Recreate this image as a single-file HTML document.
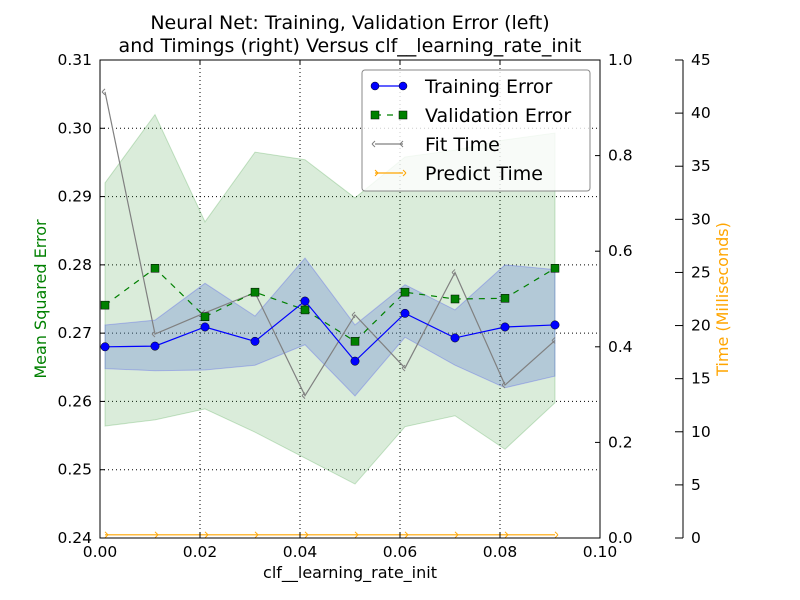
<!DOCTYPE html>
<html><head><meta charset="utf-8"><style>
body{margin:0;background:#fff;}
svg{display:block;font-family:"DejaVu Sans","Liberation Sans",sans-serif;}
</style></head><body>
<svg id="chart" width="800" height="600" xmlns="http://www.w3.org/2000/svg">
<rect width="800" height="600" fill="#fff"/>
<text x="350" y="29" text-anchor="middle" font-size="19">Neural Net: Training, Validation Error (left)</text>
<text x="350" y="52" text-anchor="middle" font-size="19">and Timings (right) Versus clf__learning_rate_init</text>
<text x="350" y="578" text-anchor="middle" font-size="16">clf__learning_rate_init</text>
<text transform="translate(46,299) rotate(-90)" text-anchor="middle" font-size="16" fill="green">Mean Squared Error</text>
<text transform="translate(728,299) rotate(-90)" text-anchor="middle" font-size="16" fill="orange">Time (Milliseconds)</text>
<g id="layer"></g>
</svg>
<script>
const xs=[0.001,0.011,0.021,0.031,0.041,0.051,0.061,0.071,0.081,0.091];
const trainErr=[0.2680,0.2681,0.2709,0.2688,0.2747,0.2659,0.2729,0.2693,0.2709,0.2712];
const trainUp=[0.2712,0.2719,0.2773,0.2725,0.2810,0.2712,0.2771,0.2734,0.2800,0.2793];
const trainLo=[0.2648,0.2645,0.2646,0.2653,0.2683,0.2608,0.2694,0.2653,0.2620,0.2637];
const valErr=[0.2741,0.2795,0.2724,0.2760,0.2734,0.2688,0.2760,0.2750,0.2751,0.2795];
const valUp=[0.2920,0.3020,0.2863,0.2965,0.2954,0.2898,0.2958,0.2968,0.2983,0.2993];
const valLo=[0.2564,0.2573,0.2589,0.2555,0.2517,0.2479,0.2563,0.2579,0.2530,0.2598];
const fitTime=[42.0,19.2,21.2,23.1,13.4,21.0,16.0,25.0,14.4,18.6];
const predTime=[0.3,0.3,0.3,0.3,0.3,0.3,0.3,0.3,0.3,0.3];
const xTicks=["0.00","0.02","0.04","0.06","0.08","0.10"];
const yTicks=["0.24","0.25","0.26","0.27","0.28","0.29","0.30","0.31"];
const r1Ticks=["0.0","0.2","0.4","0.6","0.8","1.0"];
const r2Ticks=["0","5","10","15","20","25","30","35","40","45"];

const L=100,R=600,T=60,B=538;
const X=v=>L+(v-0)/0.1*(R-L);
const Y=v=>B-(v-0.24)/0.07*(B-T);
const YT=v=>B-v/45*(B-T);
const Y1=v=>B-v*(B-T);
const NS="http://www.w3.org/2000/svg";
const g=document.getElementById('layer');
function mk(tag,attrs,parent){const e=document.createElementNS(NS,tag);for(const k in attrs)e.setAttribute(k,attrs[k]);(parent||g).appendChild(e);return e;}

xTicks.forEach(t=>{const x=X(+t);const e=mk('line',{x1:x,x2:x,y1:T,y2:B,stroke:'#000','stroke-dasharray':'1,3','stroke-width':1});

});
yTicks.forEach(t=>{const y=Y(+t);const e=mk('line',{x1:L,x2:R,y1:y,y2:y,stroke:'#000','stroke-dasharray':'1,3','stroke-width':1});

});

function band(up,lo,fill,op,stroke,name){
  let d='M'+xs.map((x,i)=>X(x)+','+Y(up[i])).join(' L');
  d+=' L'+xs.map((x,i)=>[X(x),Y(lo[i])]).reverse().map(p=>p.join(',')).join(' L')+' Z';
  const e=mk('path',{d:d,fill:fill,'fill-opacity':op,stroke:stroke,'stroke-opacity':0.2});
  
  
}
band(valUp,valLo,'#3a9a3a',0.19,'green','validation-error-band');
band(trainUp,trainLo,'#5a78d0',0.3,'blue','training-error-band');

function line(vals,fy,color,dash,name){
  const e=mk('polyline',{points:xs.map((x,i)=>X(x)+','+fy(vals[i])).join(' '),fill:'none',stroke:color,'stroke-width':1.2,'stroke-dasharray':dash||'none'});
  
  
}
line(fitTime,YT,'gray','','fit-time-line');
line(predTime,YT,'orange','','predict-time-line');
xs.forEach((x,i)=>{
  const m=mk('path',{d:`M${X(x)-3},${YT(fitTime[i])} l3,-3 M${X(x)-3},${YT(fitTime[i])} l3,3`,stroke:'gray',fill:'none'});
  
  
  const p=mk('path',{d:`M${X(x)+3},${YT(predTime[i])} l-3,-3 M${X(x)+3},${YT(predTime[i])} l-3,3`,stroke:'orange',fill:'none'});
  
  
});
line(valErr,Y,'green','6,6','validation-error-line');
xs.forEach((x,i)=>{const m=mk('rect',{x:X(x)-4,y:Y(valErr[i])-4,width:8,height:8,fill:'green',stroke:'#000','stroke-width':0.5});

});
line(trainErr,Y,'blue','','training-error-line');
xs.forEach((x,i)=>{const m=mk('circle',{cx:X(x),cy:Y(trainErr[i]),r:4.2,fill:'blue',stroke:'#000','stroke-width':0.5});

});

const fr=mk('rect',{x:L,y:T,width:R-L,height:B-T,fill:'none',stroke:'#000','stroke-width':1});



xTicks.forEach(t=>{const x=X(+t);mk('line',{x1:x,x2:x,y1:B,y2:B-5,stroke:'#000'});mk('line',{x1:x,x2:x,y1:T,y2:T+5,stroke:'#000'});
const e=mk('text',{x:x,y:B+19,'text-anchor':'middle','font-size':15.5});e.textContent=t;

});
yTicks.forEach(t=>{const y=Y(+t);mk('line',{x1:L,x2:L+5,y1:y,y2:y,stroke:'#000'});
const e=mk('text',{x:L-8,y:y+5,'text-anchor':'end','font-size':15.5});e.textContent=t;

});
r1Ticks.forEach(t=>{const y=Y1(+t);mk('line',{x1:R,x2:R-5,y1:y,y2:y,stroke:'#000'});
const e=mk('text',{x:R+8,y:y+5,'font-size':15.5});e.textContent=t;

});
mk('line',{x1:683,x2:683,y1:T,y2:B,stroke:'#000'});
r2Ticks.forEach(t=>{const y=YT(+t);mk('line',{x1:683,x2:675,y1:y,y2:y,stroke:'#000'});
const e=mk('text',{x:691,y:y+5,'font-size':15.5});e.textContent=t;

});

const lg=mk('g',{});


mk('rect',{x:362,y:70,width:228,height:121,rx:3,fill:'#fff','fill-opacity':0.8,stroke:'#888'},lg);
const items=[['Training Error','blue','circle',''],['Validation Error','green','rect','6,6'],['Fit Time','gray','tri',''],['Predict Time','orange','tri2','']];
items.forEach((it,i)=>{const y=86+i*29;
  mk('line',{x1:375,x2:403,y1:y,y2:y,stroke:it[1],'stroke-width':1.2,'stroke-dasharray':it[3]||'none'},lg);
  [375,403].forEach(x=>{
    if(it[2]=='circle')mk('circle',{cx:x,cy:y,r:4,fill:'blue',stroke:'#000','stroke-width':0.5},lg);
    else if(it[2]=='rect')mk('rect',{x:x-4,y:y-4,width:8,height:8,fill:'green',stroke:'#000','stroke-width':0.5},lg);
    else if(it[2]=='tri')mk('path',{d:`M${x-3},${y} l3,-3 M${x-3},${y} l3,3`,stroke:'gray',fill:'none'},lg);
    else mk('path',{d:`M${x+3},${y} l-3,-3 M${x+3},${y} l-3,3`,stroke:'orange',fill:'none'},lg);
  });
  const e=mk('text',{x:425,y:y+7,'font-size':19},lg);e.textContent=it[0];
  
  
});
</script>
</body></html>
